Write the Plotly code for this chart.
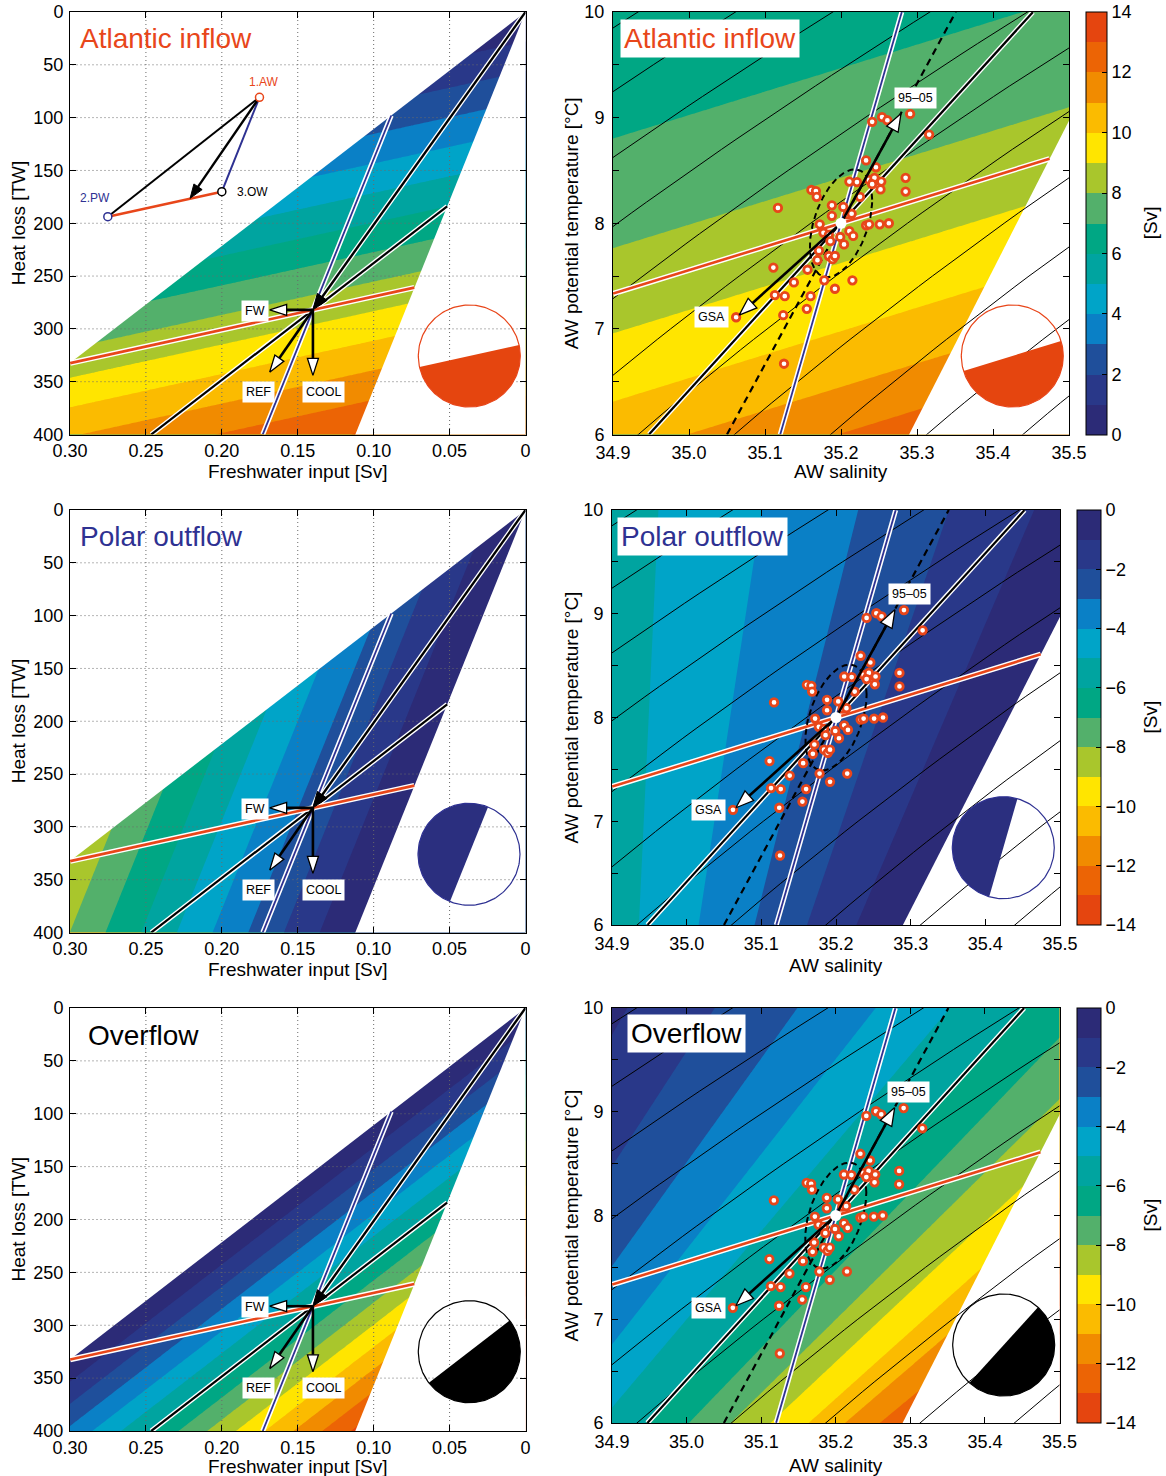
import numpy as np
import plotly.graph_objects as go

W, H = 1166, 1476
FONT = "Liberation Sans, Arial, Helvetica, sans-serif"
ORANGE = "#e8461a"
NAVY = "#2e3192"

# ---------------- data ----------------
# end-member water masses (Atlantic water, polar water, overflow water)
WM_NAMES = ["AW", "PW", "OW"]
WM_SAL = [35.2, 34.0, 34.9]
WM_TEMP = [8.0, -1.5, 0.5]
RHO_CP = 1027.0 * 3985.0          # J m-3 K-1

# reference forcing
F_REF = 0.14    # freshwater input [Sv]
Q_REF = 282.0   # heat loss [TW]

# forcing perturbation arrows
SCEN_NAMES = ["FW", "REF", "COOL"]
SCEN_DF = [0.0285, 0.0285, 0.0]
SCEN_DQ = [0.0, 59.0, 62.0]
SCEN_LABEL_F = [0.178, 0.1758, 0.133]
SCEN_LABEL_Q = [282.8, 359.5, 359.5]

# schematic T-S triangle in the first panel
TS_F = [0.1752, 0.2751, 0.2000]
TS_Q = [80.8, 193.8, 170.1]
TS_LABELS = ["1.AW", "2.PW", "3.OW"]
TS_LABEL_F = [0.1725, 0.2835, 0.1915]
TS_LABEL_Q = [66.0, 176.0, 170.5]
TS_ARROW_END = [0.2209, 176.4]

# observed Atlantic water properties
OBS_SAL = [35.117, 35.111, 35.113, 35.126, 35.138, 35.124, 35.125, 35.062, 35.155, 35.160,
           35.156, 35.169, 35.171, 35.178, 35.192, 35.215, 35.184, 35.189, 35.192, 35.172,
           35.177, 35.184, 35.186, 35.199, 35.204, 35.211, 35.216, 35.161, 35.167, 35.168,
           35.188, 35.188, 35.203, 35.209, 35.214, 35.211, 35.221, 35.225, 35.233, 35.246,
           35.237, 35.242, 35.244, 35.241, 35.253, 35.252, 35.233, 35.237, 35.251, 35.263,
           35.285, 35.285, 35.241, 35.254, 35.261, 35.291, 35.316]
OBS_TEMP = [8.145, 7.58, 7.32, 7.31, 7.44, 7.13, 6.67, 7.11, 7.19, 7.31,
            7.56, 7.65, 7.74, 7.46, 7.38, 7.46, 7.69, 7.66, 7.69, 7.99,
            7.91, 7.89, 7.83, 7.87, 7.80, 7.925, 7.88, 8.315, 8.305, 8.25,
            8.17, 8.07, 8.155, 8.085, 8.09, 8.395, 8.39, 8.25, 8.595, 8.53,
            8.41, 8.385, 8.43, 8.37, 8.395, 8.32, 7.98, 7.99, 7.99, 8.00,
            8.43, 8.30, 8.96, 9.005, 8.975, 9.035, 8.84]

# anomaly arrows in the AW T-S panels
ANOM_NAMES = ["GSA", "95\u201305"]
ANOM_SAL = [35.066, 35.279]
ANOM_TEMP = [7.13, 9.04]
ANOM_LABEL_SAL = [35.029, 35.298]
ANOM_LABEL_TEMP = [7.11, 9.19]

# dashed reference line and variability ellipse
DASH_SAL = [35.05, 35.351]
DASH_TEMP = [6.0, 10.0]
ELL_SD_SAL = 0.041
ELL_SD_TEMP = 0.51
ELL_PHASE_DEG = 64.0

SIGMA_LEVELS = [26.6, 26.7, 26.8, 26.9, 27.0, 27.1, 27.2, 27.3, 27.4, 27.5, 27.6, 27.7, 27.8, 27.9]

FW_TICKS = [0.30, 0.25, 0.20, 0.15, 0.10, 0.05, 0.0]
FW_TICKTEXT = ["0.30", "0.25", "0.20", "0.15", "0.10", "0.05", "0"]
HEAT_TICKS = [0, 50, 100, 150, 200, 250, 300, 350, 400]
SAL_TICKS = [34.9, 35.0, 35.1, 35.2, 35.3, 35.4, 35.5]
SAL_TICKTEXT = ["34.9", "35.0", "35.1", "35.2", "35.3", "35.4", "35.5"]
TEMP_TICKS = [6, 6.5, 7, 7.5, 8, 8.5, 9, 9.5, 10]
TEMP_TICKTEXT = ["6", "", "7", "", "8", "", "9", "", "10"]

# colour of each 1-Sv band of |transport| (0-1, 1-2, ..., 13-14)
BAND_COLORS = ["#2c2b77", "#293889", "#1f4f9b", "#0a80c6", "#00a4c8", "#00a4a0", "#00a784",
               "#53b06b", "#a9c62c", "#ffe500", "#fbbb00", "#f18b00", "#ec6405", "#e5450f"]

TITLES = ["Atlantic inflow", "Polar outflow", "Overflow"]
TITLE_COLORS = [ORANGE, NAVY, "black"]
CIRCLE_COLORS = ["#e5450f", "#2b2f7f", "black"]
CIRCLE_EDGES = [ORANGE, NAVY, "black"]

# panel geometry in pixels
PANELS = [
    dict(side="L", k=0, x0=70, x1=525.5, y0=12, y1=434.5, xr=[0.30, 0.0], yr=[400.0, 0.0],
         circ=(469.3, 356.0), title=(78, 38.8), xt_y=471),
    dict(side="R", k=0, x0=613, x1=1069, y0=12, y1=434.5, xr=[34.9, 35.5], yr=[6.0, 10.0],
         circ=(1012.3, 356.0), title=(710.3, 38.3), cbar=(1086, 21), xt_y=471),
    dict(side="L", k=1, x0=70, x1=525.5, y0=510, y1=932.5, xr=[0.30, 0.0], yr=[400.0, 0.0],
         circ=(469.0, 854.3), title=(78, 536.7), xt_y=969),
    dict(side="R", k=1, x0=612, x1=1060, y0=510, y1=925, xr=[34.9, 35.5], yr=[6.0, 10.0],
         circ=(1003.3, 847.7), title=(702.7, 536.2), cbar=(1077, 24), xt_y=965),
    dict(side="L", k=2, x0=70, x1=525.5, y0=1008, y1=1431, xr=[0.30, 0.0], yr=[400.0, 0.0],
         circ=(469.3, 1351.7), title=(86, 1035), xt_y=1466),
    dict(side="R", k=2, x0=612, x1=1059.5, y0=1008, y1=1423, xr=[34.9, 35.5], yr=[6.0, 10.0],
         circ=(1003.7, 1345.0), title=(686.2, 1033.8), cbar=(1077, 24), xt_y=1465),
]


# ---------------- model ----------------
def transports(F, Q, SA=None, TA=None):
    SA = WM_SAL[0] if SA is None else SA
    TA = WM_TEMP[0] if TA is None else TA
    SP, SO = WM_SAL[1], WM_SAL[2]
    TP, TO = WM_TEMP[1], WM_TEMP[2]
    q = np.asarray(Q, dtype=float) * 1e12 / RHO_CP / 1e6
    D = (SP * TO - SO * TP) - SA * (TO - TP) + TA * (SO - SP)
    pa = (q * (SO - SP) - F * (SP * TO - SO * TP)) / D
    pp = (q * (SA - SO) + F * (SA * TO - SO * TA)) / D
    po = -F - pa - pp
    return pa, pp, po


def sigma0(S, T):
    rw = (999.842594 + 6.793952e-2 * T - 9.095290e-3 * T ** 2 + 1.001685e-4 * T ** 3
          - 1.120083e-6 * T ** 4 + 6.536332e-9 * T ** 5)
    A = 0.824493 - 4.0899e-3 * T + 7.6438e-5 * T ** 2 - 8.2467e-7 * T ** 3 + 5.3875e-9 * T ** 4
    B = -5.72466e-3 + 1.0227e-4 * T - 1.6546e-6 * T ** 2
    return rw + A * S + B * S ** 1.5 + 4.8314e-4 * S ** 2 - 1000.0


def fields(g, x, y):
    if g["side"] == "L":
        return transports(np.asarray(x, float), np.asarray(y, float))
    return transports(F_REF, Q_REF, SA=np.asarray(x, float), TA=np.asarray(y, float))


def ref_point(g):
    return (F_REF, Q_REF) if g["side"] == "L" else (WM_SAL[0], WM_TEMP[0])


# ---------------- pixel helpers ----------------
def d2p(g, x, y):
    px = g["x0"] + (np.asarray(x, float) - g["xr"][0]) / (g["xr"][1] - g["xr"][0]) * (g["x1"] - g["x0"])
    py = g["y1"] - (np.asarray(y, float) - g["yr"][0]) / (g["yr"][1] - g["yr"][0]) * (g["y1"] - g["y0"])
    return px, py


def p2d(g, px, py):
    x = g["xr"][0] + (np.asarray(px, float) - g["x0"]) / (g["x1"] - g["x0"]) * (g["xr"][1] - g["xr"][0])
    y = g["yr"][0] + (g["y1"] - np.asarray(py, float)) / (g["y1"] - g["y0"]) * (g["yr"][1] - g["yr"][0])
    return x, y


def inside(g, x, y):
    a, p, o = fields(g, x, y)
    lo_x, hi_x = min(g["xr"]), max(g["xr"])
    lo_y, hi_y = min(g["yr"]), max(g["yr"])
    return ((a >= 0) & (p <= 0) & (o <= 0) & (x >= lo_x) & (x <= hi_x) & (y >= lo_y) & (y <= hi_y))


def ref_contour(g, k):
    x0, y0 = ref_point(g)
    px0, py0 = d2p(g, x0, y0)
    h = 0.5
    xa, ya = p2d(g, px0 + h, py0)
    xb, yb = p2d(g, px0 - h, py0)
    gx = (fields(g, xa, ya)[k] - fields(g, xb, yb)[k]) / (2 * h)
    xa, ya = p2d(g, px0, py0 + h)
    xb, yb = p2d(g, px0, py0 - h)
    gy = (fields(g, xa, ya)[k] - fields(g, xb, yb)[k]) / (2 * h)
    n = np.hypot(gx, gy)
    tx, ty = -gy / n, gx / n
    t = np.linspace(-900, 900, 7201)
    xs, ys = p2d(g, px0 + t * tx, py0 + t * ty)
    ok = inside(g, xs, ys)
    tt = t[ok]
    ends = np.array([tt.min(), tt.max()])
    xe, ye = p2d(g, px0 + ends * tx, py0 + ends * ty)
    return list(xe), list(ye), (gx / n, gy / n)


def head(g, tip, start, L=17.0, hw=5.5):
    ptx, pty = d2p(g, *tip)
    psx, psy = d2p(g, *start)
    ux, uy = ptx - psx, pty - psy
    n = np.hypot(ux, uy)
    ux, uy = ux / n, uy / n
    bx, by = ptx - L * ux, pty - L * uy
    nx, ny = -uy, ux
    hx = [ptx, bx + hw * nx, bx - hw * nx, ptx]
    hy = [pty, by + hw * ny, by - hw * ny, pty]
    xs, ys = p2d(g, hx, hy)
    base = p2d(g, bx + 2 * ux, by + 2 * uy)
    return list(xs), list(ys), (float(base[0]), float(base[1]))


def step_scale(colors):
    n = len(colors)
    cs = []
    for i, c in enumerate(colors):
        cs.append([i / n, c])
        cs.append([(i + 1) / n, c])
    return cs


fig = go.Figure()
annotations = []
layout = {}


def names(i):
    return ("x" if i == 1 else f"x{i}"), ("y" if i == 1 else f"y{i}")


def add(i, **kw):
    xa, ya = names(i)
    kw.setdefault("mode", "lines")
    fig.add_trace(go.Scatter(xaxis=xa, yaxis=ya, showlegend=False, hoverinfo="skip", **kw))


def cased_line(i, xs, ys, color, w_in, w_out):
    add(i, x=xs, y=ys, line=dict(color="white", width=w_out))
    add(i, x=xs, y=ys, line=dict(color=color, width=w_in))


def paper(px, py):
    return px / W, 1 - py / H


def ptext(px, py, text, size, color="black", angle=0, xanchor="center", **extra):
    x, y = paper(px, py)
    d = dict(xref="paper", yref="paper", x=x, y=y, text=text, showarrow=False, textangle=angle,
             xanchor=xanchor, yanchor="middle", font=dict(family=FONT, size=size, color=color))
    d.update(extra)
    annotations.append(d)


for i, g in enumerate(PANELS, start=1):
    xa, ya = names(i)
    k = g["k"]
    if k == 0:
        zmin, zmax, cols = 0, 14, BAND_COLORS
        tv = [0, 2, 4, 6, 8, 10, 12, 14]
        tt = [str(v) for v in tv]
    else:
        zmin, zmax, cols = -14, 0, BAND_COLORS[::-1]
        tv = [-14, -12, -10, -8, -6, -4, -2, 0]
        tt = [("\u2212" + str(-v)) if v < 0 else "0" for v in tv]

    if g["side"] == "L":
        xg = np.linspace(0.0, 0.3, 151)
        yg = np.linspace(0.0, 400.0, 201)
    else:
        xg = np.linspace(34.9, 35.5, 151)
        yg = np.linspace(6.0, 10.0, 201)
    XX, YY = np.meshgrid(xg, yg)
    Z = fields(g, XX, YY)[k]

    cb = None
    if g["side"] == "R":
        cbx, cbw = g["cbar"]
        cb = dict(x=cbx / W, xanchor="left", xpad=0, y=1 - (g["y0"] + g["y1"]) / 2 / H, yanchor="middle",
                  ypad=0, len=(g["y1"] - g["y0"]) / H, lenmode="fraction", thickness=cbw,
                  thicknessmode="pixels", outlinewidth=1, outlinecolor="black", tickmode="array",
                  tickvals=tv, ticktext=tt, ticks="inside", ticklen=5, tickcolor="black",
                  tickfont=dict(family=FONT, size=18, color="black"))
        ptext(1150, (g["y0"] + g["y1"]) / 2, "[Sv]", 19, angle=-90)

    fig.add_trace(go.Contour(x=xg, y=yg, z=Z, xaxis=xa, yaxis=ya, zmin=zmin, zmax=zmax,
                             colorscale=step_scale(cols),
                             contours=dict(start=zmin, end=zmax, size=1, coloring="fill", showlines=False),
                             line=dict(width=0), showscale=(g["side"] == "R"), colorbar=cb,
                             hoverinfo="skip"))

    # ---- masks of inadmissible states ----
    if g["side"] == "L":
        a1 = fields(g, 1.0, 0.0)[2]
        b1 = fields(g, 1.0, 1.0)[2]
        slopeO = -a1 / (b1 - a1)
        a1 = fields(g, 1.0, 0.0)[1]
        b1 = fields(g, 1.0, 1.0)[1]
        slopeP = -a1 / (b1 - a1)
        add(i, x=[-0.01, 0.32, 0.32, -0.01], y=[-0.01 * slopeO, 0.32 * slopeO, -20, -20],
            fill="toself", fillcolor="white", line=dict(width=0))
        add(i, x=[-0.01, 420 / slopeP, -0.01], y=[-0.01 * slopeP, 420, 420],
            fill="toself", fillcolor="white", line=dict(width=0))
        # grid on top
        gx, gy = [], []
        for f in FW_TICKS[1:-1]:
            gx += [f, f, None]
            gy += [0, 400, None]
        for qv in HEAT_TICKS[1:-1]:
            gx += [0, 0.3, None]
            gy += [qv, qv, None]
        add(i, x=gx, y=gy, line=dict(color="#6a6a6a", width=1, dash="1px,3px"))
    else:
        SO = WM_SAL[2]
        TO = WM_TEMP[2]
        qref = Q_REF * 1e12 / RHO_CP / 1e6
        tb = np.array([5.8, 10.2])
        sb = (F_REF * SO * tb + qref * SO) / (qref + F_REF * TO)
        add(i, x=[sb[0], sb[1], 35.7, 35.7], y=[tb[0], tb[1], tb[1], tb[0]],
            fill="toself", fillcolor="white", line=dict(width=0))
        # isopycnals
        ix, iy = [], []
        Tl = np.linspace(5.8, 10.2, 45)
        for lev in SIGMA_LEVELS:
            S = np.full_like(Tl, 35.2)
            for _ in range(8):
                S = S - (sigma0(S, Tl) - lev) / ((sigma0(S + 1e-4, Tl) - sigma0(S - 1e-4, Tl)) / 2e-4)
            ix += list(S) + [None]
            iy += list(Tl) + [None]
        add(i, x=ix, y=iy, line=dict(color="black", width=1.0))
        add(i, x=DASH_SAL, y=DASH_TEMP, line=dict(color="black", width=2.2, dash="7px,5px"))

    # ---- reference contours of the three transports ----
    lo, loy, _ = ref_contour(g, 2)
    cased_line(i, lo, loy, "black", 2.2, 5)
    lp, lpy, _ = ref_contour(g, 1)
    cased_line(i, lp, lpy, NAVY, 1.8, 5)
    if g["side"] == "L":
        hx, hy, base = head(g, (F_REF, Q_REF), (0.0, 0.0), L=16, hw=6)
        cased_line(i, [0.0, base[0]], [0.0, base[1]], "black", 2.4, 5)
    la, lay, _ = ref_contour(g, 0)
    cased_line(i, la, lay, ORANGE, 2.6, 5.5)

    if g["side"] == "L":
        add(i, x=hx, y=hy, fill="toself", fillcolor="black", line=dict(color="black", width=1))
        for nm, dF, dQ, lf, lq in zip(SCEN_NAMES, SCEN_DF, SCEN_DQ, SCEN_LABEL_F, SCEN_LABEL_Q):
            tip = (F_REF + dF, Q_REF + dQ)
            hx2, hy2, base = head(g, tip, (F_REF, Q_REF), L=17, hw=5.5)
            add(i, x=[F_REF, base[0]], y=[Q_REF, base[1]], line=dict(color="black", width=2.6))
            add(i, x=hx2, y=hy2, fill="toself", fillcolor="white", line=dict(color="black", width=1.3))
            annotations.append(dict(xref=xa, yref=ya, x=lf, y=lq, text=nm, showarrow=False,
                                    xanchor="center", yanchor="middle", bgcolor="white", borderpad=3,
                                    font=dict(family=FONT, size=12.5, color="black")))
        if i == 1:
            add(i, x=[TS_F[0], TS_F[1]], y=[TS_Q[0], TS_Q[1]], line=dict(color="black", width=2))
            add(i, x=[TS_F[0], TS_F[2]], y=[TS_Q[0], TS_Q[2]], line=dict(color=NAVY, width=2))
            add(i, x=[TS_F[1], TS_F[2]], y=[TS_Q[1], TS_Q[2]], line=dict(color=ORANGE, width=2.5))
            hx3, hy3, base = head(g, tuple(TS_ARROW_END), (TS_F[0], TS_Q[0]), L=14, hw=5)
            add(i, x=[TS_F[0], base[0]], y=[TS_Q[0], base[1]], line=dict(color="black", width=2.4))
            add(i, x=hx3, y=hy3, fill="toself", fillcolor="black", line=dict(color="black", width=1))
            mcols = [ORANGE, NAVY, "black"]
            add(i, x=TS_F, y=TS_Q, mode="markers",
                marker=dict(size=8, color="white", line=dict(color=mcols, width=1.5)))
            for lab, lf, lq, c, anc in zip(TS_LABELS, TS_LABEL_F, TS_LABEL_Q, mcols,
                                            ["center", "center", "left"]):
                annotations.append(dict(xref=xa, yref=ya, x=lf, y=lq, text=lab, showarrow=False,
                                        xanchor=anc, yanchor="middle",
                                        font=dict(family=FONT, size=12, color=c)))
    else:
        # variability ellipse
        tpar = np.linspace(0, 2 * np.pi, 200)
        ph = np.deg2rad(ELL_PHASE_DEG)
        add(i, x=WM_SAL[0] + ELL_SD_SAL * np.cos(tpar), y=WM_TEMP[0] + ELL_SD_TEMP * np.cos(tpar - ph),
            line=dict(color="black", width=2, dash="6px,4px"))
        add(i, x=OBS_SAL, y=OBS_TEMP, mode="markers",
            marker=dict(size=7.5, color="white", line=dict(color=ORANGE, width=2.8)))
        for nm, s, t, ls, lt in zip(ANOM_NAMES, ANOM_SAL, ANOM_TEMP, ANOM_LABEL_SAL, ANOM_LABEL_TEMP):
            hx2, hy2, base = head(g, (s, t), (WM_SAL[0], WM_TEMP[0]), L=18, hw=6.5)
            add(i, x=[WM_SAL[0], base[0]], y=[WM_TEMP[0], base[1]], line=dict(color="black", width=2.6))
            add(i, x=hx2, y=hy2, fill="toself", fillcolor="white", line=dict(color="black", width=1.3))
            annotations.append(dict(xref=xa, yref=ya, x=ls, y=lt, text=nm, showarrow=False,
                                    xanchor="center", yanchor="middle", bgcolor="white", borderpad=3,
                                    font=dict(family=FONT, size=12.5, color="black")))
        add(i, x=[WM_SAL[0]], y=[WM_TEMP[0]], mode="markers",
            marker=dict(size=11, color="white", line=dict(width=0)))

    # ---- inset circle: half towards growing |transport| ----
    _, _, gdir = ref_contour(g, k)
    ux, uy = gdir
    if k != 0:
        ux, uy = -ux, -uy
    th0 = np.arctan2(uy, ux)
    cx, cy = g["circ"]
    r = 51.0
    th = np.linspace(th0 - np.pi / 2, th0 + np.pi / 2, 90)
    sx, sy = p2d(g, cx + r * np.cos(th), cy + r * np.sin(th))
    add(i, x=list(sx) + [sx[0]], y=list(sy) + [sy[0]], fill="toself", fillcolor=CIRCLE_COLORS[k],
        line=dict(width=0))
    th = np.linspace(0, 2 * np.pi, 180)
    cxs, cys = p2d(g, cx + r * np.cos(th), cy + r * np.sin(th))
    add(i, x=cxs, y=cys, line=dict(color=CIRCLE_EDGES[k], width=1.2))

    # ---- title ----
    if g["side"] == "L":
        ptext(g["title"][0], g["title"][1], TITLES[k], 28, TITLE_COLORS[k], xanchor="left")
    else:
        ptext(g["title"][0], g["title"][1], TITLES[k], 28, TITLE_COLORS[k], bgcolor="white", borderpad=3)

    # ---- axes ----
    common = dict(showgrid=False, zeroline=False, showline=True, linecolor="black", linewidth=1,
                  mirror="allticks", ticks="inside", ticklen=6, tickwidth=1, tickcolor="black",
                  tickmode="array", tickfont=dict(family=FONT, size=18, color="black"), fixedrange=True)
    xdom = [g["x0"] / W, g["x1"] / W]
    ydom = [1 - g["y1"] / H, 1 - g["y0"] / H]
    if g["side"] == "L":
        xax = dict(domain=xdom, range=g["xr"], anchor=ya, tickvals=FW_TICKS, ticktext=FW_TICKTEXT,
                   ticklabelstandoff=0, **common)
        yax = dict(domain=ydom, range=g["yr"], anchor=xa, tickvals=HEAT_TICKS,
                   ticktext=[str(v) for v in HEAT_TICKS], ticklabelstandoff=2, **common)
        xt, yt = "Freshwater input [Sv]", "Heat loss [TW]"
        ylx = 18
    else:
        xax = dict(domain=xdom, range=g["xr"], anchor=ya, tickvals=SAL_TICKS, ticktext=SAL_TICKTEXT,
                   ticklabelstandoff=2, **common)
        yax = dict(domain=ydom, range=g["yr"], anchor=xa, tickvals=TEMP_TICKS, ticktext=TEMP_TICKTEXT,
                   ticklabelstandoff=4, **common)
        xt, yt = "AW salinity", "AW potential temperature [\u00b0C]"
        ylx = 571
    layout["xaxis" if i == 1 else f"xaxis{i}"] = xax
    layout["yaxis" if i == 1 else f"yaxis{i}"] = yax
    ptext((g["x0"] + g["x1"]) / 2, g["xt_y"], xt, 19)
    ptext(ylx, (g["y0"] + g["y1"]) / 2, yt, 19, angle=-90)

fig.update_layout(width=W, height=H, margin=dict(l=0, r=0, t=0, b=0, pad=0, autoexpand=False),
                  paper_bgcolor="white", plot_bgcolor="white", showlegend=False,
                  annotations=annotations, font=dict(family=FONT), **layout)
fig.write_html("out.html")
